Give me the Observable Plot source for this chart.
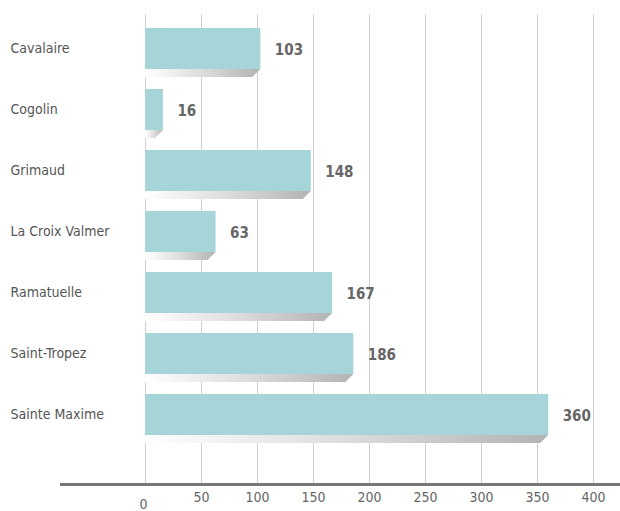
<!DOCTYPE html>
<html><head><meta charset="utf-8">
<script src="https://cdn.jsdelivr.net/npm/d3@7"></script>
<script src="https://cdn.jsdelivr.net/npm/@observablehq/plot@0.6"></script>
<style>
body{margin:0;background:#fff;}
svg{font-family:"Liberation Sans Narrow","DejaVu Sans Condensed","Roboto",sans-serif;}
</style></head>
<body><div id="chart"></div>
<script>
const categories = ["Cavalaire","Cogolin","Grimaud","La Croix Valmer","Ramatuelle","Saint-Tropez","Sainte Maxime"];
const values = [103,16,148,63,167,186,360];
const ticks = [0,50,100,150,200,250,300,350,400];

const PX = 61; // pixels per row unit
const rows = categories.map((c,i)=>({name:c, i, v:values[i]}));
const pxToY = p => p/PX;
const pxToX = p => p/(448/400);

const shadow = rows.flatMap(d=>[
  {name:d.name, y:d.i+pxToY(21), x1:0, x2:d.v},
  {name:d.name, y:d.i+pxToY(29), x1:0, x2:Math.max(0,d.v-pxToX(8))}
]);

const chart = Plot.plot({
  width:620, height:511,
  marginTop:0, marginBottom:0, marginLeft:0, marginRight:0,
  x:{domain:[0,400], range:[145,593], axis:null},
  y:{domain:[-48/PX,(511-48)/PX], range:[0,511], axis:null},
  marks:[
    Plot.ruleX(ticks,{x:d=>d, y1:pxToY(14)-48/PX, y2:pxToY(484)-48/PX, stroke:"#cfcfcf", strokeWidth:1}),
    Plot.areaX(shadow,{y:"y", x1:"x1", x2:"x2", z:"name", fill:"url(#shadowGrad)", curve:"linear"}),
    Plot.rectX(rows,{x1:0, x2:"v", y1:d=>d.i-pxToY(20), y2:d=>d.i+pxToY(21), fill:"#a5d5d8"}),
    Plot.text(rows,{x:"v", y:d=>d.i+pxToY(1.5), text:d=>String(d.v), textAnchor:"start", dx:14, fill:"#666", fontSize:15, fontWeight:"bold"}),
    Plot.text(rows,{x:0, y:"i", text:"name", textAnchor:"start", dx:-135, fill:"#555", fontSize:14}),
    Plot.ruleY([pxToY(484)-48/PX],{x1:pxToX(60-145), x2:pxToX(620-145), stroke:"#777", strokeWidth:3}),
    Plot.text(ticks.filter(t=>t!==0),{x:d=>d, y:pxToY(497)-48/PX, text:d=>String(d), fill:"#666", fontSize:14}),
    Plot.text(ticks.filter(t=>t===0),{x:d=>d, y:pxToY(504)-48/PX, text:d=>String(d), fill:"#666", fontSize:14, dx:-2})
  ]
});

const ns = "http://www.w3.org/2000/svg";
const defs = document.createElementNS(ns,"defs");
defs.innerHTML = '<linearGradient id="shadowGrad" x1="0" x2="1" y1="0" y2="0"><stop offset="0" stop-color="#ffffff"/><stop offset="0.5" stop-color="#dcdcdc"/><stop offset="1" stop-color="#b3b3b3"/></linearGradient>';
chart.insertBefore(defs, chart.firstChild);
document.getElementById("chart").appendChild(chart);
</script>
</body></html>
